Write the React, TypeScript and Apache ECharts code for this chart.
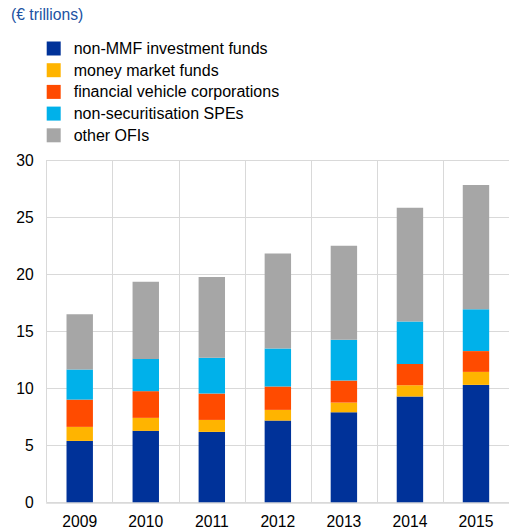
import React, { useEffect, useRef } from "react";
import * as echarts from "echarts";

const years = ["2009", "2010", "2011", "2012", "2013", "2014", "2015"];
const nonMMF = [5.38, 6.26, 6.17, 7.16, 7.89, 9.27, 10.29];
const mmf = [1.23, 1.14, 1.05, 0.94, 0.85, 0.99, 1.14];
const fvc = [2.39, 2.34, 2.31, 2.05, 1.93, 1.87, 1.82];
const spe = [2.64, 2.83, 3.13, 3.33, 3.57, 3.72, 3.68];
const otherOFI = [4.85, 6.76, 7.08, 8.33, 8.25, 9.97, 10.88];

const seriesNames = [
  "non-MMF investment funds",
  "money market funds",
  "financial vehicle corporations",
  "non-securitisation SPEs",
  "other OFIs",
];
const seriesData = [nonMMF, mmf, fvc, spe, otherOFI];
const colors = ["#003299", "#FFB400", "#FF4B00", "#00B1EA", "#A6A6A6"];
const unitLabel = "(€ trillions)";

const FONT = "'Liberation Sans', Arial, sans-serif";

export default function App() {
  const ref = useRef<HTMLDivElement>(null);
  useEffect(() => {
    if (!ref.current) return;
    const chart = echarts.init(ref.current, null, { renderer: "svg" });
    chart.setOption({
      animation: false,
      color: colors,
      title: {
        text: unitLabel,
        left: 6,
        top: 1,
        textStyle: {
          fontFamily: FONT,
          fontSize: 15.7,
          fontWeight: "normal",
          color: "#2152a3",
        },
      },
      legend: {
        orient: "vertical",
        left: 41.7,
        top: 35.5,
        itemWidth: 14,
        itemHeight: 14,
        itemGap: 5.7,
        icon: "rect",
        data: seriesNames,
        textStyle: {
          fontFamily: FONT,
          fontSize: 16,
          color: "#000",
          padding: [0, 0, 0, 8],
        },
      },
      grid: {
        left: 46.7,
        top: 160,
        width: 466.7,
        bottom: 28.7,
        containLabel: false,
      },
      xAxis: {
        type: "category",
        data: years,
        boundaryGap: true,
        axisLine: { show: true, lineStyle: { color: "#d9d9d9", width: 1.5 } },
        axisTick: { show: false },
        splitLine: { show: true, lineStyle: { color: "#d9d9d9", width: 1 } },
        axisLabel: {
          fontFamily: FONT,
          fontSize: 15.7,
          color: "#000",
          margin: 11,
        },
      },
      yAxis: {
        type: "value",
        min: 0,
        max: 30,
        interval: 5,
        axisLine: { show: false },
        axisTick: { show: false },
        splitLine: { show: true, lineStyle: { color: "#d9d9d9", width: 1 } },
        axisLabel: {
          fontFamily: FONT,
          fontSize: 15.7,
          color: "#000",
          margin: 13,
        },
      },
      series: seriesNames.map((name, i) => ({
        name,
        type: "bar",
        stack: "total",
        barWidth: "40%",
        data: seriesData[i],
        itemStyle: { color: colors[i] },
      })),
    });
    return () => chart.dispose();
  }, []);
  return (
    <div
      ref={ref}
      style={{ position: "absolute", left: 0, top: 0, width: 509, height: 531 }}
    />
  );
}
